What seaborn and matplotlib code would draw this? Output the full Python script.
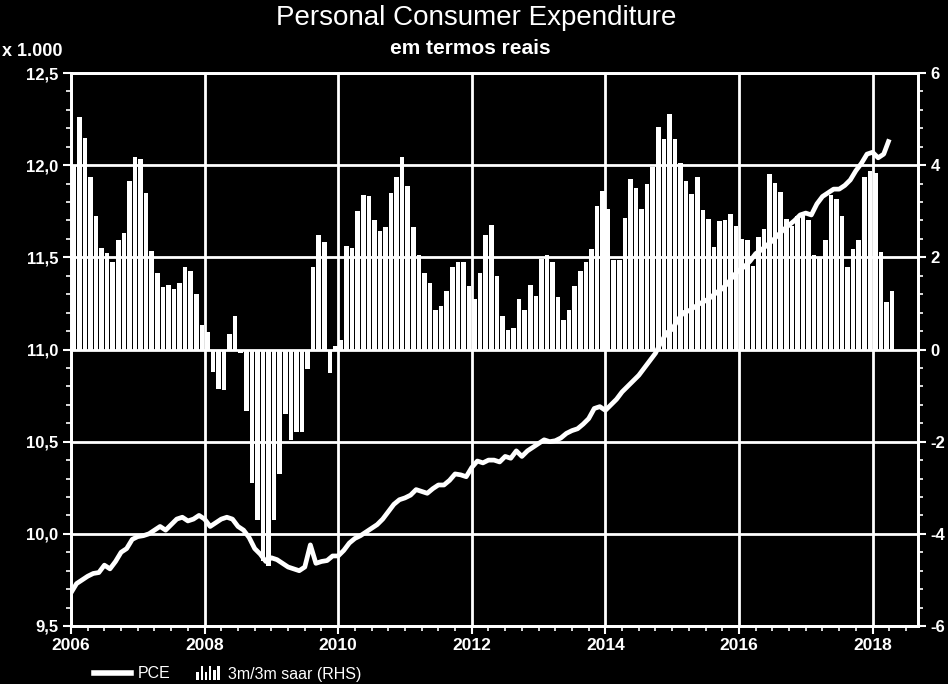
import numpy as np
import pandas as pd
import matplotlib
matplotlib.use("Agg")
import matplotlib.pyplot as plt
import seaborn as sns
from matplotlib.ticker import MultipleLocator, FuncFormatter
from matplotlib.lines import Line2D
from matplotlib.patches import Rectangle
from matplotlib.legend_handler import HandlerBase
from matplotlib.font_manager import FontProperties

# ---------------- data (monthly, Jan 2006 - Apr 2018) ----------------
start_month = "2006-01-01"

# PCE, real terms, x 1.000 (left axis)
pce = [
    9.68, 9.73, 9.75, 9.77, 9.785, 9.79, 9.83, 9.81, 9.85, 9.90, 9.92, 9.97,          # 2006
    9.985, 9.99, 10.0, 10.02, 10.04, 10.02, 10.05, 10.08, 10.09, 10.07, 10.08, 10.10, # 2007
    10.08, 10.04, 10.06, 10.08, 10.09, 10.08, 10.04, 10.02, 9.98, 9.92, 9.89, 9.85,   # 2008
    9.87, 9.86, 9.84, 9.82, 9.81, 9.80, 9.82, 9.94, 9.84, 9.85, 9.855, 9.88,          # 2009
    9.88, 9.91, 9.95, 9.975, 9.99, 10.01, 10.03, 10.05, 10.08, 10.12, 10.16, 10.185,  # 2010
    10.195, 10.21, 10.24, 10.23, 10.22, 10.245, 10.265, 10.265, 10.29, 10.325, 10.32, 10.31,  # 2011
    10.36, 10.395, 10.385, 10.40, 10.40, 10.39, 10.42, 10.41, 10.45, 10.42, 10.45, 10.47,     # 2012
    10.49, 10.51, 10.50, 10.505, 10.52, 10.545, 10.56, 10.57, 10.595, 10.625, 10.68, 10.69,   # 2013
    10.67, 10.70, 10.73, 10.77, 10.80, 10.83, 10.86, 10.90, 10.94, 10.98, 11.04, 11.09,       # 2014
    11.11, 11.16, 11.20, 11.21, 11.23, 11.25, 11.265, 11.285, 11.31, 11.33, 11.36, 11.40,     # 2015
    11.43, 11.45, 11.48, 11.52, 11.54, 11.565, 11.59, 11.62, 11.65, 11.675, 11.70, 11.73,     # 2016
    11.74, 11.73, 11.79, 11.83, 11.85, 11.87, 11.87, 11.89, 11.92, 11.97, 12.01, 12.06,       # 2017
    12.07, 12.04, 12.06, 12.14,                                                               # 2018
]

# 3m/3m saar, % (right axis)
saar = [
    4.0, 5.04, 4.6, 3.75, 2.9, 2.2, 2.1, 1.9, 2.37, 2.53, 3.65, 4.17,        # 2006
    4.13, 3.4, 2.13, 1.65, 1.35, 1.4, 1.32, 1.45, 1.8, 1.7, 1.2, 0.54,       # 2007
    0.37, -0.48, -0.85, -0.87, 0.33, 0.72, -0.07, -1.34, -2.9, -3.7, -4.6, -4.7,  # 2008
    -3.7, -2.7, -1.4, -1.96, -1.8, -1.8, -0.42, 1.78, 2.48, 2.33, -0.52, 0.08,    # 2009
    0.2, 2.25, 2.2, 3.0, 3.35, 3.33, 2.8, 2.58, 2.65, 3.39, 3.75, 4.17,      # 2010
    3.55, 2.65, 2.06, 1.65, 1.45, 0.85, 0.94, 1.26, 1.8, 1.89, 1.89, 1.37,   # 2011
    1.1, 1.65, 2.48, 2.7, 1.6, 0.72, 0.43, 0.47, 1.1, 0.85, 1.39, 1.17,      # 2012
    1.97, 2.05, 1.9, 1.15, 0.65, 0.86, 1.37, 1.7, 1.9, 2.17, 3.12, 3.45,     # 2013
    3.04, 1.94, 1.95, 2.85, 3.69, 3.5, 3.04, 3.6, 3.95, 4.83, 4.57, 5.1,     # 2014
    4.57, 4.04, 3.66, 3.38, 3.74, 3.02, 2.84, 2.22, 2.78, 2.8, 2.94, 2.69,   # 2015
    2.4, 2.38, 1.82, 2.45, 2.62, 3.81, 3.61, 3.41, 2.84, 2.69, 2.89, 2.9,    # 2016
    2.8, 2.04, 2.0, 2.38, 3.35, 3.27, 2.9, 1.79, 2.19, 2.38, 3.74, 3.88,     # 2017
    3.84, 2.11, 1.03, 1.28,                                                  # 2018
]

title = "Personal Consumer Expenditure"
subtitle = "em termos reais"
unit_label = "x 1.000"
legend_labels = ["PCE", "3m/3m saar (RHS)"]

# ---------------- build frame ----------------
months = pd.date_range(start_month, periods=len(pce), freq="MS")
xdec = months.year + (months.month - 1) / 12.0
df = pd.DataFrame({"x_line": xdec, "x_bar": xdec + 1 / 24.0,
                   "pce": pce, "saar": saar})

# ---------------- styling ----------------
FONT = ["Liberation Sans Narrow", "Liberation Sans", "DejaVu Sans"]
plt.rcParams["font.family"] = FONT
W, H = 948, 684
fig = plt.figure(figsize=(W / 100, H / 100), dpi=100, facecolor="black")

left, right, top, bottom = 71, 918, 73, 626
ax1 = fig.add_axes([left / W, 1 - bottom / H, (right - left) / W, (bottom - top) / H])
ax2 = ax1.twinx()
ax1.set_zorder(ax2.get_zorder() + 1)
ax1.patch.set_visible(False)
ax2.patch.set_visible(False)

# bars (right axis)
sns.barplot(data=df, x="x_bar", y="saar", native_scale=True, color="white",
            saturation=1, width=0.82, linewidth=0, errorbar=None, ax=ax2)

# line (left axis, on top)
sns.lineplot(data=df, x="x_line", y="pce", color="white", linewidth=3.4,
             ax=ax1, solid_capstyle="butt")

ax1.set_xlim(2006, 2018.68)
ax1.set_ylim(9.5, 12.5)
ax2.set_ylim(-6, 6)
ax2.set_xlim(2006, 2018.68)

for ax in (ax1, ax2):
    ax.set_xlabel("")
    ax.set_ylabel("")
    for s in ax.spines.values():
        s.set_color("white")
        s.set_linewidth(2)

# ticks
ax1.xaxis.set_major_locator(MultipleLocator(2))
ax1.xaxis.set_minor_locator(MultipleLocator(0.25))
ax1.xaxis.set_major_formatter(FuncFormatter(lambda v, p: f"{int(round(v))}"))
ax1.yaxis.set_major_locator(MultipleLocator(0.5))
ax1.yaxis.set_minor_locator(MultipleLocator(0.1))
ax1.yaxis.set_major_formatter(FuncFormatter(lambda v, p: f"{v:.1f}".replace(".", ",")))
ax2.yaxis.set_major_locator(MultipleLocator(2))
ax2.yaxis.set_minor_locator(MultipleLocator(0.4))
ax2.yaxis.set_major_formatter(FuncFormatter(lambda v, p: f"{int(round(v))}".replace("\u2212", "-")))

for ax in (ax1, ax2):
    ax.tick_params(which="major", colors="white", direction="out", length=6, width=1.5, pad=3)
    ax.tick_params(which="minor", colors="white", direction="out", length=3.5, width=1.2)

xfont = FontProperties(family=FONT, weight="bold", size=12.5)
yfont = FontProperties(family=FONT, weight="bold", size=12)
for lab in ax1.get_xticklabels():
    lab.set_fontproperties(xfont)
    lab.set_color("white")
for lab in ax1.get_yticklabels() + ax2.get_yticklabels():
    lab.set_fontproperties(yfont)
    lab.set_color("white")

# grid lines on the bar axes, above the bars, below the line
ax2.xaxis.set_visible(True)
ax2.tick_params(axis="x", which="both", bottom=False, top=False,
                labelbottom=False, labeltop=False)
ax2.set_axisbelow(False)
ax2.grid(True, which="major", axis="both", color="white", linewidth=2)
ax1.grid(False)

# titles
fig.text(476 / W, 1 - 18 / H, title, ha="center", va="center", color="white",
         fontsize=20, family=FONT)
fig.text(470 / W, 1 - 49 / H, subtitle, ha="center", va="center", color="white",
         fontsize=15, weight="bold", family=FONT)
fig.text(2 / W, 1 - 52 / H, unit_label, ha="left", va="center", color="white",
         fontsize=13, weight="bold", family=FONT)


# legend
class BarsIcon:
    pass


class BarsHandler(HandlerBase):
    def create_artists(self, legend, orig_handle, xdescent, ydescent, width,
                       height, fontsize, trans):
        hts = [0.6, 1.0, 0.55, 1.0, 0.7, 1.0]
        span = width * 0.68
        x0 = -xdescent + width - span
        bw = span / len(hts)
        arts = []
        for i, h in enumerate(hts):
            r = Rectangle((x0 + i * bw, -ydescent - height * 0.15), bw * 0.62,
                          height * 1.25 * h, facecolor="white", edgecolor="none",
                          transform=trans)
            arts.append(r)
        return arts


handles = [Line2D([], [], color="white", lw=4), BarsIcon()]
fig.legend(handles, legend_labels, handler_map={BarsIcon: BarsHandler()},
           loc="center left", bbox_to_anchor=(80 / W, 1 - 674 / H), ncol=2,
           frameon=False, labelcolor="white", handlelength=2.3,
           columnspacing=0.9, handletextpad=0.4,
           prop=dict(family=FONT, size=11.5))

fig.savefig("out.png", dpi=100, facecolor="black")
